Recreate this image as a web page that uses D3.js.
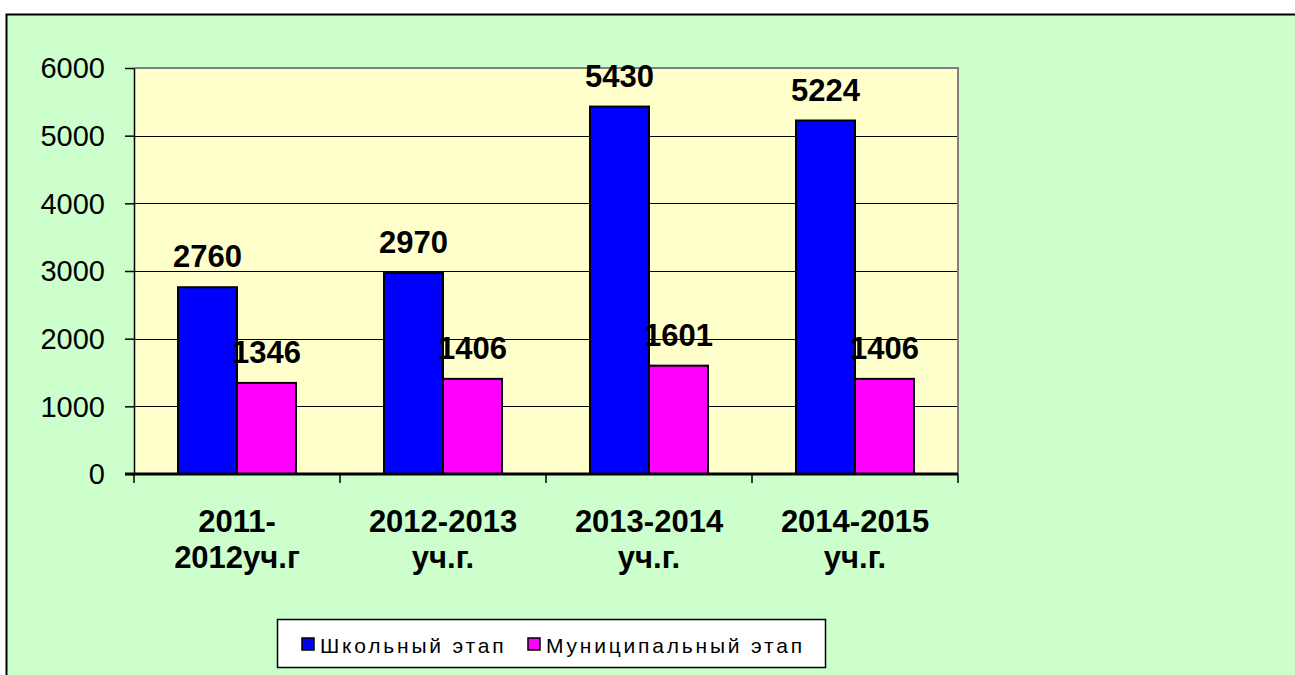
<!DOCTYPE html>
<html>
<head>
<meta charset="utf-8">
<script src="https://cdn.jsdelivr.net/npm/d3@7"></script>
<style>
  body { margin: 0; background: #fff; }
  text { font-family: "Liberation Sans", Arial, sans-serif; }
</style>
</head>
<body>
<div id="viz"></div>
<script>
// data
const categories = [['2011-', '2012уч.г'], ['2012-2013', 'уч.г.'], ['2013-2014', 'уч.г.'], ['2014-2015', 'уч.г.']];
const schoolStage = [2760, 2970, 5430, 5224];
const municipalStage = [1346, 1406, 1601, 1406];
const seriesNames = ['Школьный этап', 'Муниципальный этап'];
const seriesColors = ['#0000ff', '#ff00ff'];
const yTicks = [0, 1000, 2000, 3000, 4000, 5000, 6000];

const SETTINGS = {
    width: 1295,
    height: 675,
    plot: { left: 134, right: 958, top: 68, bottom: 474 }
};

let svg = d3.select('#viz').append('svg')
    .attr('width', SETTINGS.width)
    .attr('height', SETTINGS.height);

// outer chart area
svg.append('rect')
    .attr('x', 6.5).attr('y', 14.5)
    .attr('width', 1400).attr('height', 800)
    .attr('fill', '#ccffcc')
    .attr('stroke', '#000')
    .attr('stroke-width', 2);

let p = SETTINGS.plot;

let xScale = d3.scaleBand()
    .domain(d3.range(categories.length))
    .range([p.left, p.right]);

let inner = d3.scaleBand()
    .domain([0, 1])
    .range([0, xScale.bandwidth()])
    .paddingOuter(0.746);

let yScale = d3.scaleLinear()
    .domain([0, 6000])
    .range([p.bottom, p.top]);

// plot background
svg.append('rect')
    .attr('x', p.left).attr('y', p.top)
    .attr('width', p.right - p.left).attr('height', p.bottom - p.top)
    .attr('fill', '#ffffcc');

// gridlines
svg.selectAll('.grid')
    .data(yTicks.filter(d => d > 0 && d < 6000))
    .enter()
    .append('line')
    .attr('class', 'grid')
    .attr('x1', p.left).attr('x2', p.right)
    .attr('y1', d => Math.round(yScale(d)) + 0.5)
    .attr('y2', d => Math.round(yScale(d)) + 0.5)
    .attr('stroke', '#000')
    .attr('stroke-width', 1);

// gray plot border top + right
svg.append('path')
    .attr('d', `M${p.left},${p.top} H${p.right} V${p.bottom}`)
    .attr('fill', 'none')
    .attr('stroke', '#808080')
    .attr('stroke-width', 2);

// bars
let series = [schoolStage, municipalStage];
series.forEach((vals, s) => {
    svg.selectAll('.bar' + s)
        .data(vals)
        .enter()
        .append('rect')
        .attr('class', 'bar' + s)
        .attr('x', (d, i) => xScale(i) + inner(s))
        .attr('y', d => yScale(d))
        .attr('width', inner.bandwidth())
        .attr('height', d => p.bottom - yScale(d))
        .attr('fill', seriesColors[s])
        .attr('stroke', '#000')
        .attr('stroke-width', 2);
});

// value labels
series.forEach((vals, s) => {
    svg.selectAll('.val' + s)
        .data(vals)
        .enter()
        .append('text')
        .attr('class', 'val' + s)
        .attr('x', (d, i) => xScale(i) + inner(s) + inner.bandwidth() / 2)
        .attr('y', d => yScale(d) - 20)
        .attr('text-anchor', 'middle')
        .attr('font-size', 31)
        .attr('font-weight', 'bold')
        .attr('fill', '#000')
        .text(d => d);
});

// y axis
let yAxis = svg.append('g')
    .attr('transform', `translate(${p.left},0)`)
    .call(d3.axisLeft(yScale).tickValues(yTicks).tickFormat(d3.format('d'))
        .tickSize(9).tickPadding(20).tickSizeOuter(0));
yAxis.select('.domain').attr('stroke', '#000').attr('stroke-width', 1.5);
yAxis.selectAll('.tick line').attr('stroke', '#000').attr('stroke-width', 1.5);
yAxis.selectAll('.tick text')
    .attr('font-size', 29)
    .attr('font-family', '"Liberation Sans", Arial, sans-serif')
    .attr('fill', '#000')
    .attr('dy', '0.34em');

// x axis baseline and ticks at category edges
svg.append('line')
    .attr('x1', p.left - 9).attr('x2', p.right)
    .attr('y1', p.bottom).attr('y2', p.bottom)
    .attr('stroke', '#000').attr('stroke-width', 3);

let edges = d3.range(categories.length + 1).map(i => i < categories.length ? xScale(i) : p.right);
svg.selectAll('.xtick')
    .data(edges)
    .enter()
    .append('line')
    .attr('class', 'xtick')
    .attr('x1', d => d).attr('x2', d => d)
    .attr('y1', p.bottom).attr('y2', p.bottom + 9)
    .attr('stroke', '#000').attr('stroke-width', 1.5);

// category labels
let xl = svg.selectAll('.xlab')
    .data(categories)
    .enter()
    .append('text')
    .attr('class', 'xlab')
    .attr('text-anchor', 'middle')
    .attr('font-size', 31)
    .attr('font-weight', 'bold')
    .attr('fill', '#000');
xl.each(function (d, i) {
    d3.select(this).selectAll('tspan')
        .data(d)
        .enter()
        .append('tspan')
        .attr('x', xScale(i) + xScale.bandwidth() / 2)
        .attr('y', (t, j) => 532 + j * 36)
        .text(t => t);
});

// legend
let legend = svg.append('g');
legend.append('rect')
    .attr('x', 277.5).attr('y', 619.5)
    .attr('width', 548).attr('height', 48)
    .attr('fill', '#fff')
    .attr('stroke', '#000')
    .attr('stroke-width', 1.5);

let legendX = [302, 528];
seriesNames.forEach((name, s) => {
    legend.append('rect')
        .attr('x', legendX[s]).attr('y', 638)
        .attr('width', 12).attr('height', 12)
        .attr('fill', seriesColors[s])
        .attr('stroke', '#000')
        .attr('stroke-width', 1.5);
    legend.append('text')
        .attr('x', legendX[s] + 18)
        .attr('y', 653)
        .attr('font-size', 21)
        .attr('letter-spacing', 2.8)
        .attr('fill', '#000')
        .text(name);
});
</script>
</body>
</html>
